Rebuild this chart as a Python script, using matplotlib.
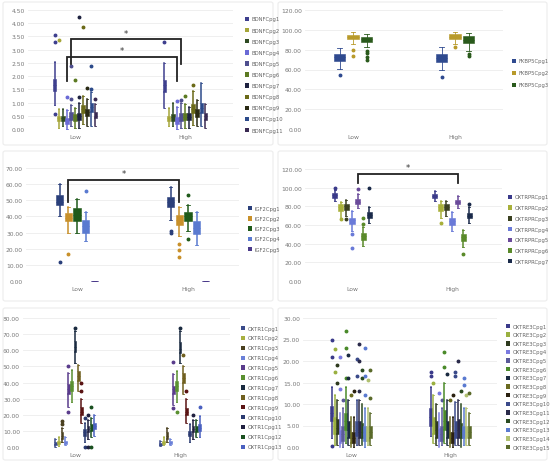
import numpy as np
import matplotlib
matplotlib.use("Agg")
import matplotlib.pyplot as plt
from matplotlib.patches import Rectangle, FancyBboxPatch

W, H = 550, 464
GROUPS = ["Low", "High"]

# ---------------- data (whislo, q1, median, q3, whishi) ----------------
BDNF_NAMES = [f"BDNFCpg{i}" for i in range(1, 12)]
BDNF_COLORS = ["#3e3f8e", "#a6a63a", "#2e4a22", "#6a6ad6", "#4f4f8f", "#5c7a22",
               "#1e2240", "#6b6a18", "#2a2a14", "#2c4a8a", "#3a2a52"]
BDNF_LOW = [[0.9, 1.45, 1.65, 1.9, 2.55], [0.05, 0.3, 0.4, 0.5, 0.75], [0.1, 0.3, 0.4, 0.5, 0.75],
            [0.0, 0.2, 0.3, 0.4, 0.7], [0.1, 0.35, 0.5, 0.65, 0.9], [0.05, 0.3, 0.45, 0.55, 0.8],
            [0.05, 0.35, 0.5, 0.6, 1.0], [0.2, 0.6, 0.75, 0.9, 1.25], [0.1, 0.5, 0.65, 0.75, 1.15],
            [0.1, 0.65, 0.85, 1.0, 1.4], [0.1, 0.4, 0.5, 0.65, 0.95]]
BDNF_LOW_OUT = [[3.3, 3.55, 0.55], [3.35], [], [1.2], [1.15, 2.4], [1.85], [1.2, 4.22],
                [3.87], [1.55], [1.5, 2.4], [1.15]]
BDNF_HIGH = [[0.8, 1.4, 1.65, 1.85, 2.5], [0.1, 0.3, 0.4, 0.5, 0.8], [0.1, 0.3, 0.45, 0.55, 1.0],
             [0.0, 0.2, 0.3, 0.45, 0.85], [0.05, 0.3, 0.45, 0.6, 1.0], [0.05, 0.35, 0.45, 0.6, 0.95],
             [0.05, 0.35, 0.45, 0.6, 0.85], [0.15, 0.6, 0.75, 0.95, 1.45], [0.1, 0.45, 0.6, 0.75, 1.1],
             [0.1, 0.6, 0.8, 1.0, 1.75], [0.05, 0.35, 0.5, 0.6, 0.95]]
BDNF_HIGH_OUT = [[3.3], [], [], [1.05], [1.1], [1.25], [], [1.65], [], [], []]
# brackets: (series index, bracket top, leg bottom)
BDNF_SIG = [(4, 3.4, 2.45), (3, 2.73, 1.8)]

FKBP5_NAMES = [f"FKBP5Cpg{i}" for i in range(1, 4)]
FKBP5_COLORS = ["#2f4a8f", "#b89a2a", "#2a5a1c"]
FKBP5_LOW = [[61, 69, 73, 76, 82], [86, 91, 93, 95, 98], [83, 88, 91, 93, 96]]
FKBP5_LOW_OUT = [[54], [80, 74], [79, 77, 73, 70]]
FKBP5_HIGH = [[60, 68, 72, 76, 83], [86, 91, 93, 96, 98], [79, 87, 90, 94, 97]]
FKBP5_HIGH_OUT = [[52], [83], [76, 74]]
FKBP5_SIG = []

IGF2_NAMES = [f"IGF2Cpg{i}" for i in range(1, 6)]
IGF2_COLORS = ["#2a3f7a", "#c8902a", "#1f5a1a", "#5a7ad0", "#4a3a8a"]
IGF2_LOW = [[40, 47, 49, 53, 60], [30, 37, 39, 42, 46], [30, 37, 41, 45, 51], [25, 30, 34, 38, 43], [0, 0, 0, 0, 0]]
IGF2_LOW_OUT = [[12], [17], [], [56], []]
IGF2_HIGH = [[38, 46, 49, 52, 58], [28, 35, 38, 41, 46], [31, 37, 40, 43, 47], [22, 29, 33, 37, 43], [0, 0, 0, 0, 0]]
IGF2_HIGH_OUT = [[31, 30], [23, 19, 15], [53, 26], [], []]
IGF2_SIG = [(1, 62.7, 49)]

OXTRPR_NAMES = [f"OXTRPRCpg{i}" for i in range(1, 8)]
OXTRPR_COLORS = ["#3a3a8a", "#a8b03a", "#3a4020", "#6a7ad8", "#6a4a9a", "#5a8a2a", "#1a2a4a"]
OXTRPR_LOW = [[86, 89, 92, 94, 97], [68, 75, 79, 82, 85], [70, 76, 80, 82, 87], [54, 61, 65, 68, 75],
              [78, 82, 85, 88, 93], [38, 44, 48, 51, 58], [62, 67, 71, 74, 79]]
OXTRPR_LOW_OUT = [[100], [66], [66], [50, 35], [99], [61, 67], [100]]
OXTRPR_HIGH = [[86, 89, 91, 93, 96], [68, 75, 79, 82, 86], [70, 76, 79, 82, 86], [54, 60, 64, 67, 74],
               [78, 82, 85, 87, 91], [36, 43, 47, 50, 55], [62, 67, 70, 73, 79]]
OXTRPR_HIGH_OUT = [[], [62], [], [], [], [29], [82]]
OXTRPR_SIG = [(4, 115, 105)]

OXTR1_NAMES = [f"OXTR1Cpg{i}" for i in range(1, 14)]
OXTR1_COLORS = ["#3a4a8a", "#a8b040", "#4a4020", "#6a80d8", "#5a3c8c", "#5a9030", "#1a2a40",
                "#706020", "#5a1414", "#2a3a70", "#202040", "#1a5020", "#4a60c0"]
OXTR1_LOW = [[0, 1, 2, 3, 5], [0.5, 2, 3, 4, 6], [3, 5, 7, 9, 12], [1, 2, 3, 4, 6],
             [25, 33, 36, 39, 46], [28, 35, 38, 41, 48], [52, 59, 62, 66, 72], [35, 41, 44, 47, 51],
             [15, 20, 22, 25, 30], [3, 7, 9, 11, 15], [5, 9, 11, 13, 17], [6, 10, 12, 14, 18], [7, 11, 13, 15, 20]]
OXTR1_LOW_OUT = [[], [], [14, 16], [], [22, 50], [], [74], [], [35, 40], [0, 18], [0, 20], [0, 25], []]
OXTR1_HIGH = [[0.5, 1, 1.5, 2.5, 4], [1, 2, 3, 4, 6], [3, 5, 7, 9, 12], [1, 2, 3, 4, 5],
              [26, 33, 36, 38, 45], [28, 35, 38, 41, 47], [52, 58, 61, 65, 72], [33, 40, 43, 46, 50],
              [15, 20, 22, 24, 30], [3, 7, 8, 10, 14], [5, 9, 11, 13, 17], [6, 9, 11, 13, 17], [6, 10, 12, 14, 19]]
OXTR1_HIGH_OUT = [[], [], [], [], [53, 24], [22], [74], [57], [35], [], [20], [], [25]]
OXTR1_SIG = []

OXTRE3_NAMES = [f"OXTRE3Cpg{i}" for i in range(1, 16)]
OXTRE3_COLORS = ["#3a3a8a", "#9ab040", "#2e3a1e", "#7a7ae0", "#5a5a9a", "#4a8a2a", "#1a2a40",
                 "#6a6a20", "#2a2010", "#3a4a8a", "#2a2a4a", "#2a4a20", "#5a7ad0", "#b0c070", "#5a6a2a"]
OXTRE3_LOW = [[2, 6, 8, 9.5, 14], [0.5, 3, 5, 7, 12], [0.5, 3, 4.5, 6.5, 11], [0, 1, 2.5, 4, 8],
              [0, 1.5, 3, 5, 9], [1, 4, 6, 8, 14], [0.5, 2, 4, 6, 11], [0, 1, 2, 3.5, 7],
              [0, 1, 2, 3.5, 7], [0.5, 2.5, 4, 6, 11], [0.5, 2, 3.5, 6, 11], [0.5, 2, 3.5, 5.5, 10],
              [0, 1.5, 3, 5, 9], [0.5, 1.5, 3, 5, 9], [0.5, 2, 3.5, 5, 8]]
OXTRE3_LOW_OUT = [[21, 25, 0.2], [17.5, 22.8], [15, 19], [13.5, 21], [11], [16, 23, 27], [16, 21.5],
                  [12], [13], [16.5, 20.5], [13, 20, 24], [18, 16], [12, 16.5, 23], [15.5], [11.5, 17.8]]
OXTRE3_HIGH = [[2.5, 5, 7, 9, 14], [1, 3, 5, 7, 12], [0.5, 2, 4, 6, 10], [0, 1.5, 3, 4.5, 8],
               [0.5, 1.5, 3, 5, 9], [1, 4, 6, 8.5, 15], [0.5, 2, 4, 6, 11], [0, 1, 2, 3.5, 7],
               [0, 1, 2, 3.5, 7], [0.5, 2, 4, 6, 10.5], [0.5, 2, 4, 6.5, 11], [0, 2, 3.5, 5.5, 10],
               [0.5, 2, 3.5, 5, 9], [0.5, 2, 3, 5, 9], [0.5, 2, 3.5, 5, 8]]
OXTRE3_HIGH_OUT = [[16.5, 17.5], [15], [], [12.5], [11], [18.5, 22], [17], [11], [12], [17.5, 16.5],
                   [20], [13], [16, 14.5], [12], [12.5]]
OXTRE3_SIG = []

# ---------------- layout (pixels) ----------------
PANELS = [
    dict(names=BDNF_NAMES, colors=BDNF_COLORS, low=BDNF_LOW, low_out=BDNF_LOW_OUT, high=BDNF_HIGH,
         high_out=BDNF_HIGH_OUT, sig=BDNF_SIG, ymax=4.5, ystep=0.5, wlw=1.1, bw=0.9,
         G=28, E=233, L=75, Hx=185, top=11, bot=130, sp=4.1, lx=247, ly=20, ldy=11.1),
    dict(names=FKBP5_NAMES, colors=FKBP5_COLORS, low=FKBP5_LOW, low_out=FKBP5_LOW_OUT, high=FKBP5_HIGH,
         high_out=FKBP5_HIGH_OUT, sig=FKBP5_SIG, ymax=120, ystep=20, wlw=0.6, bw=0.85,
         G=305, E=503, L=353, Hx=455, top=11, bot=130, sp=13.5, lx=514, ly=62, ldy=12),
    dict(names=IGF2_NAMES, colors=IGF2_COLORS, low=IGF2_LOW, low_out=IGF2_LOW_OUT, high=IGF2_HIGH,
         high_out=IGF2_HIGH_OUT, sig=IGF2_SIG, ymax=70, ystep=10, wlw=1.1, bw=0.85,
         G=26, E=239, L=77, Hx=188, top=169, bot=282, sp=8.7, lx=250, ly=209, ldy=10.3),
    dict(names=OXTRPR_NAMES, colors=OXTRPR_COLORS, low=OXTRPR_LOW, low_out=OXTRPR_LOW_OUT, high=OXTRPR_HIGH,
         high_out=OXTRPR_HIGH_OUT, sig=OXTRPR_SIG, ymax=120, ystep=20, wlw=1.1, bw=0.88,
         G=305, E=502, L=352, Hx=452, top=170, bot=282, sp=5.7, lx=510, ly=198, ldy=10.7),
    dict(names=OXTR1_NAMES, colors=OXTR1_COLORS, low=OXTR1_LOW, low_out=OXTR1_LOW_OUT, high=OXTR1_HIGH,
         high_out=OXTR1_HIGH_OUT, sig=OXTR1_SIG, ymax=80, ystep=10, wlw=1.1, bw=0.92,
         G=23, E=230, L=75, Hx=180, top=319, bot=448, sp=3.25, lx=243, ly=329, ldy=9.9),
    dict(names=OXTRE3_NAMES, colors=OXTRE3_COLORS, low=OXTRE3_LOW, low_out=OXTRE3_LOW_OUT, high=OXTRE3_HIGH,
         high_out=OXTRE3_HIGH_OUT, sig=OXTRE3_SIG, ymax=30, ystep=5, wlw=1.1, bw=0.92,
         G=303, E=497, L=351, Hx=450, top=319, bot=448, sp=2.75, lx=508, ly=327, ldy=8.65),
]
FRAMES = [(3, 3, 270, 143), (278, 3, 269, 143), (3, 152, 270, 150), (278, 152, 269, 150),
          (3, 309, 270, 152), (278, 309, 269, 152)]

fig = plt.figure(figsize=(W / 100, H / 100), dpi=100)
fig.patch.set_facecolor("white")

for (fx, fy, fw, fh) in FRAMES:
    fig.patches.append(FancyBboxPatch((fx / W, 1 - (fy + fh) / H), fw / W, fh / H,
                                      boxstyle="round,pad=0,rounding_size=0.004",
                                      transform=fig.transFigure, facecolor="none",
                                      edgecolor="#ececec", linewidth=0.8, zorder=0))

for p in PANELS:
    G, E, L, Hx, top, bot = p["G"], p["E"], p["L"], p["Hx"], p["top"], p["bot"]
    ax = fig.add_axes([G / W, 1 - bot / H, (E - G) / W, (bot - top) / H])
    unit = Hx - L
    ax.set_xlim(1 - (L - G) / unit, 2 + (E - Hx) / unit)
    ax.set_ylim(0, p["ymax"])
    n = len(p["names"])
    sp = p["sp"] / unit
    for gi, (stats, outs) in enumerate([(p["low"], p["low_out"]), (p["high"], p["high_out"])]):
        center = gi + 1
        for i in range(n):
            pos = center + (i - (n - 1) / 2) * sp
            wl, q1, med, q3, wh = stats[i]
            st = dict(whislo=wl, q1=q1, med=med, q3=q3, whishi=wh, fliers=outs[i])
            c = p["colors"][i]
            bp = ax.bxp([st], positions=[pos], widths=sp * p["bw"], patch_artist=True,
                        showfliers=True, manage_ticks=False,
                        boxprops=dict(facecolor=c, edgecolor=c, linewidth=0.4),
                        medianprops=dict(color=c, linewidth=0.6),
                        whiskerprops=dict(color=c, linewidth=p["wlw"]),
                        capprops=dict(color=c, linewidth=0.6),
                        capwidths=sp * 0.35,
                        flierprops=dict(marker="o", markersize=1.8, markerfacecolor=c,
                                        markeredgecolor=c, linestyle="none"))
            for k in bp:
                for a in bp[k]:
                    a.set_clip_on(False)
                    a.set_zorder(3)
    # significance brackets
    for (si, ytop, yleg) in p["sig"]:
        x1 = 1 + (si - (n - 1) / 2) * sp
        x2 = 2 + (si - (n - 1) / 2) * sp
        ax.plot([x1, x1, x2, x2], [yleg, ytop, ytop, yleg], color="#222222", lw=1.3,
                solid_joinstyle="miter", zorder=4, clip_on=False)
        ax.text((x1 + x2) / 2, ytop + p["ymax"] * 0.012, "*", ha="center", va="bottom",
                fontsize=6, color="#333333", zorder=4)
    ax.set_yticks(np.arange(0, p["ymax"] + p["ystep"] / 2, p["ystep"]))
    ax.yaxis.set_major_formatter(matplotlib.ticker.FormatStrFormatter("%.2f"))
    ax.set_xticks([1, 2])
    ax.set_xticklabels(GROUPS)
    ax.tick_params(axis="both", length=0, labelsize=4.3, labelcolor="#777777")
    ax.tick_params(axis="x", pad=3.5)
    ax.tick_params(axis="y", pad=2.2)
    ax.grid(axis="y", color="#ececec", linewidth=0.6)
    ax.set_axisbelow(True)
    for s in ax.spines.values():
        s.set_visible(False)
    # legend
    for i, name in enumerate(p["names"]):
        y = p["ly"] + i * p["ldy"]
        fig.patches.append(Rectangle(((p["lx"] - 2.2) / W, 1 - (y + 2.2) / H), 4.4 / W, 4.4 / H,
                                     transform=fig.transFigure, facecolor=p["colors"][i],
                                     edgecolor="none"))
        fig.text((p["lx"] + 4.5) / W, 1 - y / H, name, fontsize=3.8, color="#666666",
                 va="center", ha="left")

fig.savefig("out.png", dpi=100, facecolor="white")
